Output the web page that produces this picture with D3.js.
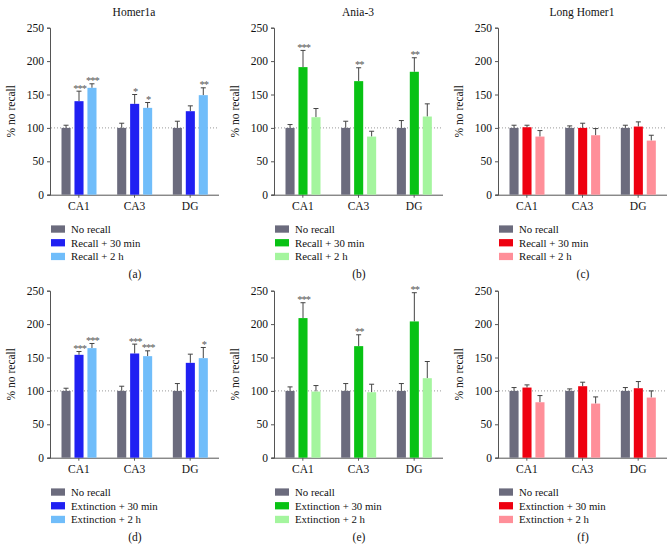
<!DOCTYPE html>
<html>
<head>
<meta charset="utf-8">
<script src="https://cdn.jsdelivr.net/npm/d3@7"></script>
<style>
  body { margin: 0; background: #fff; }
  svg, svg text { font-family: "Liberation Serif", "Times New Roman", Tinos, "DejaVu Serif", serif !important; }
</style>
</head>
<body>
<svg id="chart" width="672" height="551"></svg>
<script>
// categories and labels
const regions = ["CA1", "CA3", "DG"];
const yTicks = [0, 50, 100, 150, 200, 250];
const genes = ["Homer1a", "Ania-3", "Long Homer1"];
const recallSeries = ["No recall", "Recall + 30 min", "Recall + 2 h"];
const extinctionSeries = ["No recall", "Extinction + 30 min", "Extinction + 2 h"];
const panelLetters = ["(a)", "(b)", "(c)", "(d)", "(e)", "(f)"];

// values: one row per region, [no recall, +30 min, +2 h]
const homer1aRecall = [[100, 140, 160], [100, 136, 130], [100, 125, 149]];
const homer1aRecallErr = [[4, 15, 6], [7, 14, 8], [10, 8, 11]];
const homer1aRecallStars = [["", "***", "***"], ["", "*", "*"], ["", "", "**"]];

const ania3Recall = [[100, 191, 116], [100, 170, 87], [100, 184, 117]];
const ania3RecallErr = [[5, 25, 13], [10, 20, 8], [11, 21, 19]];
const ania3RecallStars = [["", "***", ""], ["", "**", ""], ["", "**", ""]];

const longHomer1Recall = [[100, 101, 87], [100, 100, 89], [100, 102, 81]];
const longHomer1RecallErr = [[4, 3, 9], [3, 7, 10], [4, 7, 8]];
const longHomer1RecallStars = [["", "", ""], ["", "", ""], ["", "", ""]];

const homer1aExtinction = [[100, 154, 164], [100, 156, 152], [100, 142, 149]];
const homer1aExtinctionErr = [[4, 5, 7], [7, 14, 8], [11, 13, 16]];
const homer1aExtinctionStars = [["", "***", "***"], ["", "***", "***"], ["", "", "*"]];

const ania3Extinction = [[100, 209, 99], [100, 167, 98], [100, 204, 119]];
const ania3ExtinctionErr = [[6, 23, 9], [11, 17, 12], [11, 43, 25]];
const ania3ExtinctionStars = [["", "***", ""], ["", "**", ""], ["", "**", ""]];

const longHomer1Extinction = [[100, 105, 83], [100, 107, 81], [100, 104, 90]];
const longHomer1ExtinctionErr = [[5, 4, 10], [3, 6, 10], [5, 10, 10]];
const longHomer1ExtinctionStars = [["", "", ""], ["", "", ""], ["", "", ""]];

const palettes = [
    ["#6b6b7d", "#2020f2", "#70bdfa"],
    ["#6b6b7d", "#08c214", "#a4f59e"],
    ["#6b6b7d", "#ee0010", "#ff8f99"]
];

const panels = [
    {vals: homer1aRecall, errs: homer1aRecallErr, stars: homer1aRecallStars, series: recallSeries},
    {vals: ania3Recall, errs: ania3RecallErr, stars: ania3RecallStars, series: recallSeries},
    {vals: longHomer1Recall, errs: longHomer1RecallErr, stars: longHomer1RecallStars, series: recallSeries},
    {vals: homer1aExtinction, errs: homer1aExtinctionErr, stars: homer1aExtinctionStars, series: extinctionSeries},
    {vals: ania3Extinction, errs: ania3ExtinctionErr, stars: ania3ExtinctionStars, series: extinctionSeries},
    {vals: longHomer1Extinction, errs: longHomer1ExtinctionErr, stars: longHomer1ExtinctionStars, series: extinctionSeries}
];

const svg = d3.select("#chart");

const y = d3.scaleLinear().domain([0, 250]).range([194.7, 27.7]);
const x = d3.scaleBand().domain(regions).range([51, 218]);
const sub = d3.scaleBand().domain([0, 1, 2]).range([10.5, 45.5]).paddingInner(0.3);

panels.forEach((p, i) => {
    const col = i % 3, row = Math.floor(i / 3);
    const colors = palettes[col];
    const g = svg.append("g")
        .attr("transform", "translate(" + (col * 224) + "," + (row * 263) + ")");

    if (row == 0) {
        g.append("text")
            .attr("x", 134).attr("y", 16)
            .attr("text-anchor", "middle")
            .style("font-size", "11.5px")
            .attr("fill", "#111")
            .text(genes[col]);
    }

    // y axis
    const yAxis = g.append("g")
        .attr("transform", "translate(50,0)")
        .call(d3.axisLeft(y).tickValues(yTicks).tickSize(3).tickPadding(3));
    yAxis.attr("font-family", null);
    yAxis.select(".domain").attr("stroke", "#555");
    yAxis.selectAll(".tick line").attr("stroke", "#555");
    yAxis.selectAll(".tick text")
        .style("font-size", "11.5px")
        .attr("fill", "#111");

    // x axis
    const xAxis = g.append("g")
        .attr("transform", "translate(0," + y(0) + ")")
        .call(d3.axisBottom(x).tickSize(3).tickSizeOuter(0).tickPadding(4));
    xAxis.attr("font-family", null);
    xAxis.select(".domain").attr("stroke", "#555").attr("d", "M48,0.5H219");
    xAxis.selectAll(".tick line").attr("stroke", "#555");
    xAxis.selectAll(".tick text")
        .style("font-size", "11.5px")
        .attr("fill", "#111");

    g.append("text")
        .attr("transform", "translate(15," + y(125) + ") rotate(-90)")
        .attr("text-anchor", "middle")
        .style("font-size", "11.5px")
        .attr("fill", "#111")
        .text("% no recall");

    // reference line at 100%
    g.append("line")
        .attr("x1", 51).attr("x2", 219)
        .attr("y1", y(100)).attr("y2", y(100))
        .attr("stroke", "#999")
        .attr("stroke-width", 1)
        .attr("stroke-dasharray", "1,2");

    regions.forEach((r, ri) => {
        p.vals[ri].forEach((v, si) => {
            const bx = x(r) + sub(si);
            const cx = bx + sub.bandwidth() / 2;
            const top = y(v + p.errs[ri][si]);
            // error bar (upper only)
            g.append("line")
                .attr("x1", cx).attr("x2", cx)
                .attr("y1", y(v)).attr("y2", top)
                .attr("stroke", "#444").attr("stroke-width", 1);
            g.append("line")
                .attr("x1", cx - 2.5).attr("x2", cx + 2.5)
                .attr("y1", top).attr("y2", top)
                .attr("stroke", "#444").attr("stroke-width", 1);
            g.append("rect")
                .attr("x", bx).attr("y", y(v))
                .attr("width", sub.bandwidth())
                .attr("height", y(0) - y(v))
                .attr("fill", colors[si]);
            if (p.stars[ri][si] != "") {
                g.append("text")
                    .attr("x", cx + 0.5).attr("y", top + 0.5)
                    .attr("text-anchor", "middle")
                    .style("font-size", "10.5px")
                    .style("letter-spacing", "-1px")
                    .attr("fill", "#555")
                    .text(p.stars[ri][si]);
            }
        });
    });

    // legend
    const leg = g.append("g");
    p.series.forEach((s, si) => {
        const ly = 229 + si * 13.7;
        leg.append("rect")
            .attr("x", 51).attr("y", ly - 3.6)
            .attr("width", 14).attr("height", 7.3)
            .attr("fill", colors[si]);
        leg.append("text")
            .attr("x", 71).attr("y", ly + 3.8)
            .style("font-size", "10.8px")
            .attr("fill", "#111")
            .text(s);
    });

    g.append("text")
        .attr("x", 135).attr("y", 278)
        .attr("text-anchor", "middle")
        .style("font-size", "11.5px")
        .attr("fill", "#111")
        .text(panelLetters[i]);
});
</script>
</body>
</html>
